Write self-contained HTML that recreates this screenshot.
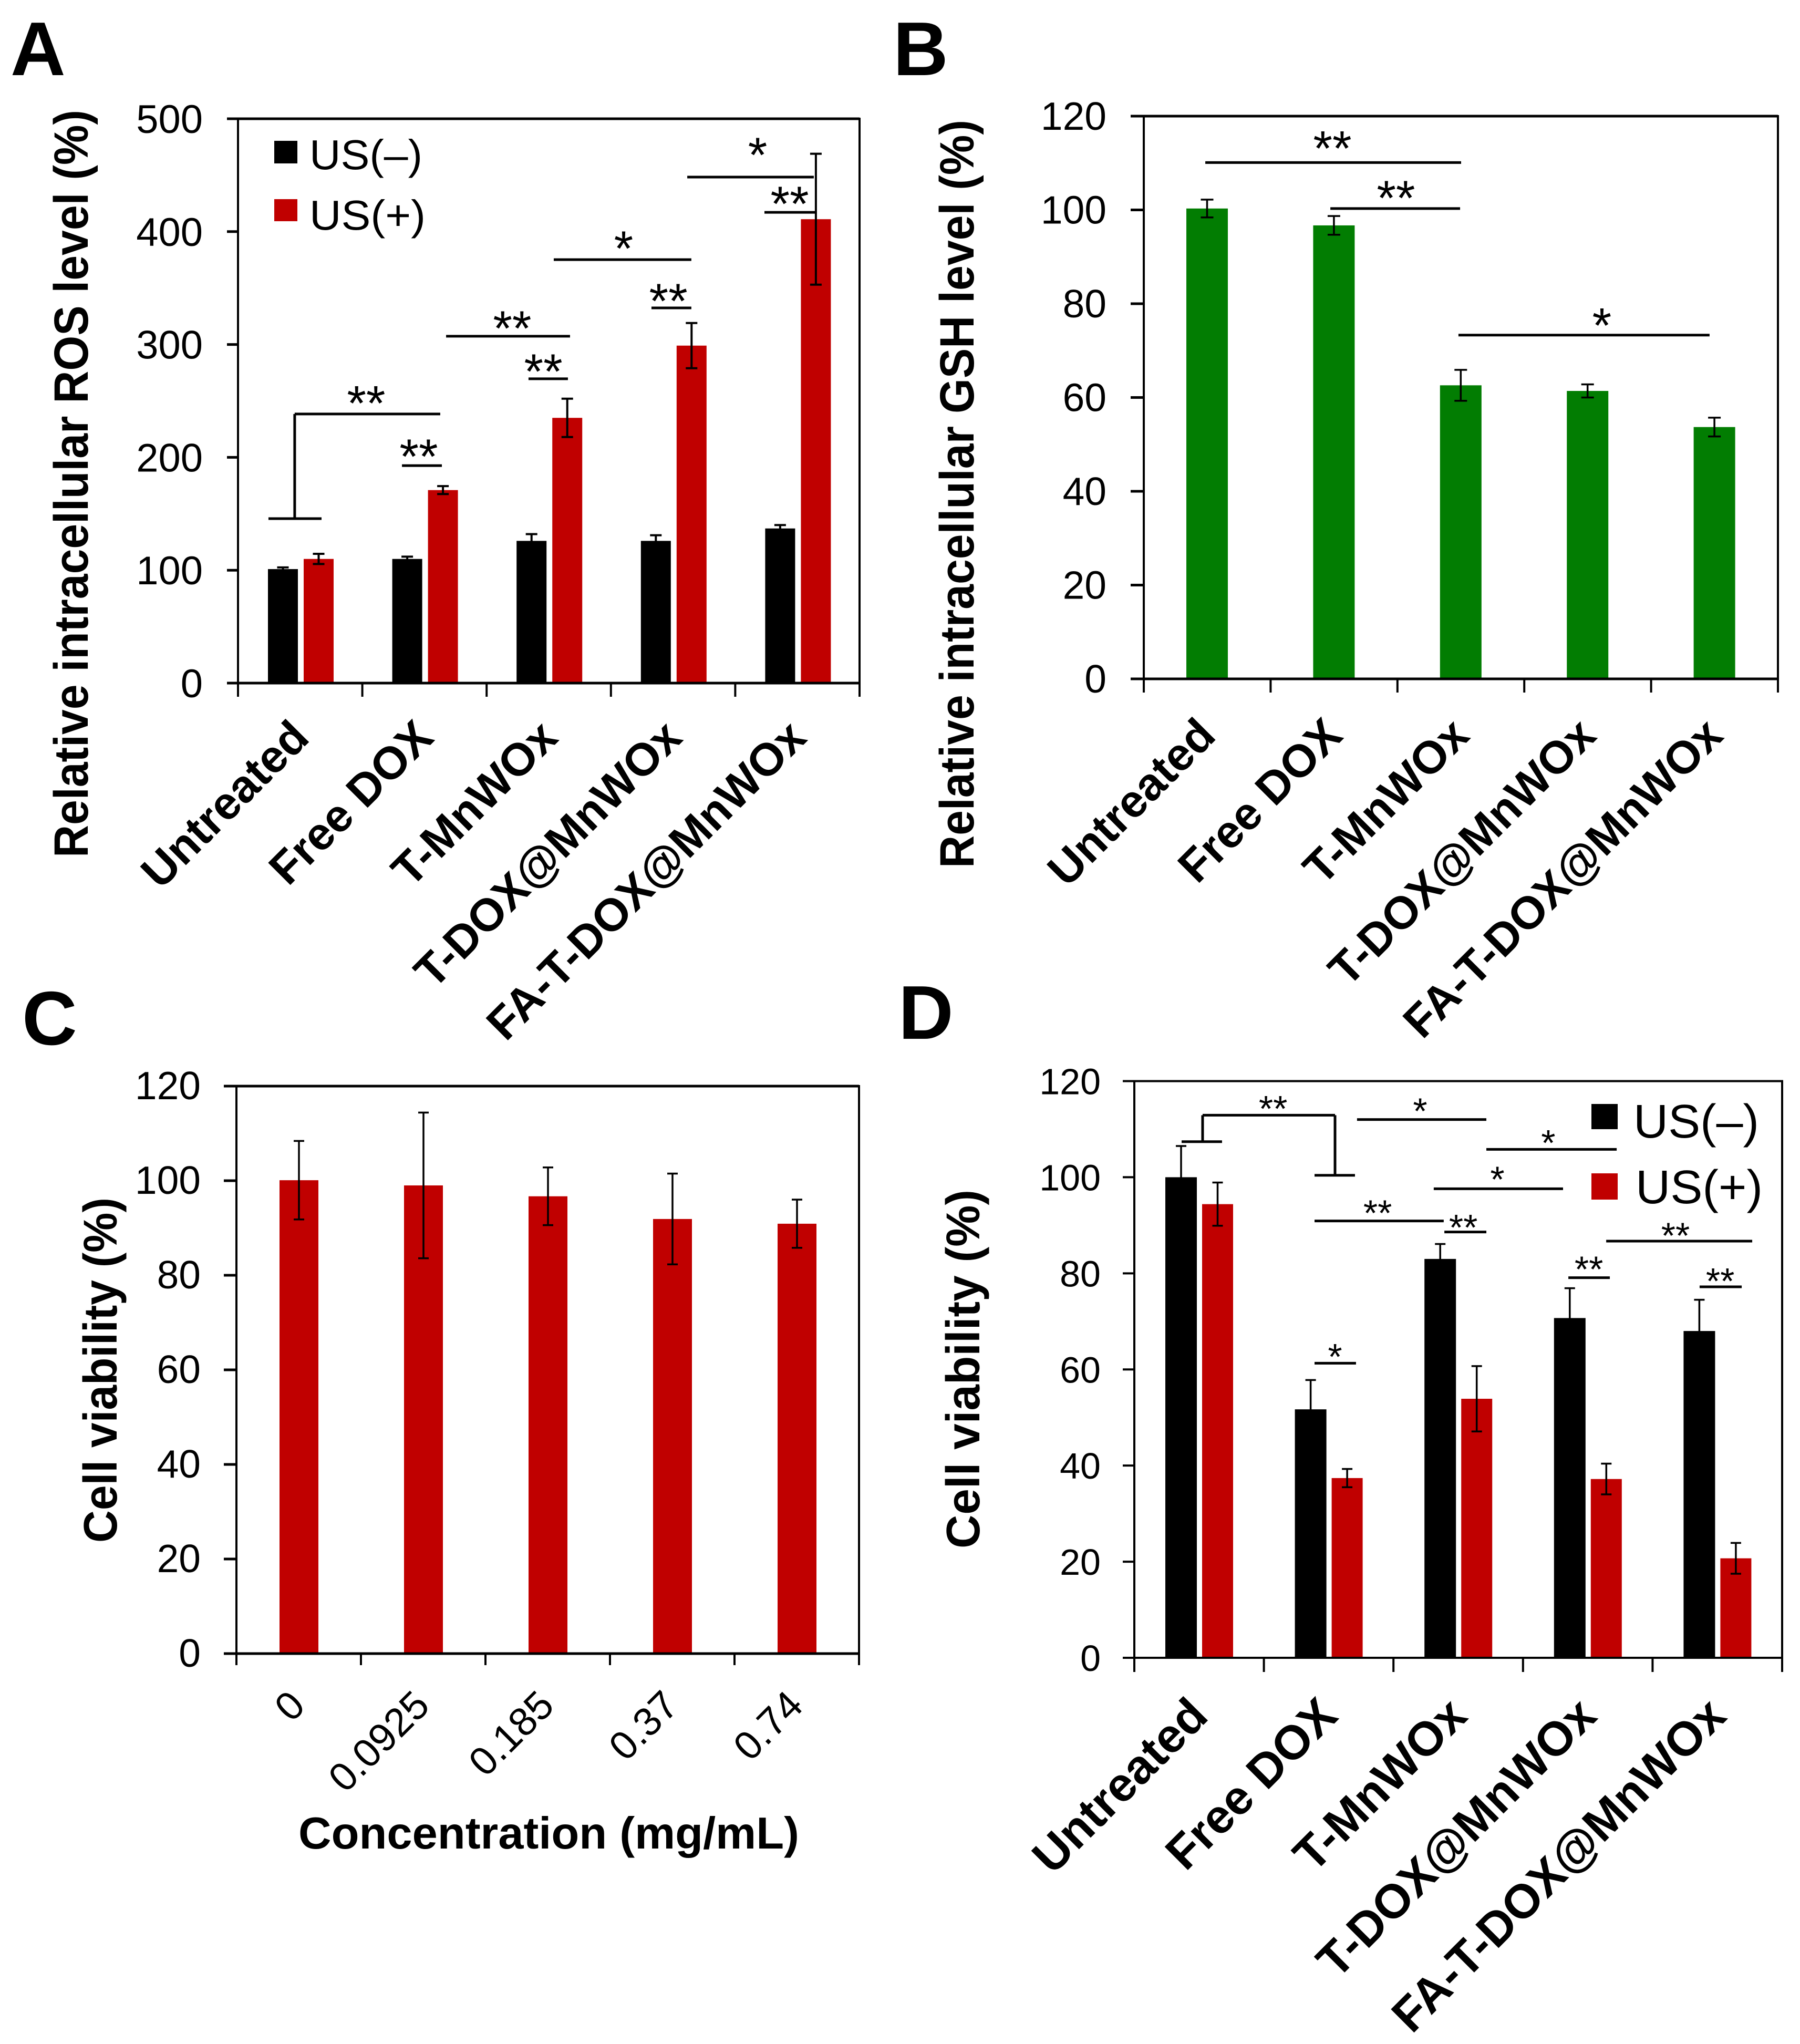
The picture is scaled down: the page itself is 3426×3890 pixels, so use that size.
<!DOCTYPE html>
<html lang="en">
<head>
<meta charset="utf-8">
<title>Intracellular ROS, GSH and cell viability charts</title>
<style>
  html, body { margin: 0; padding: 0; background: #fff; }
  svg { display: block; }
  text { font-family: "Liberation Sans", Arial, sans-serif; fill: #000; }
  .b { font-weight: bold; }
</style>
</head>
<body>
<svg id="figure" xmlns="http://www.w3.org/2000/svg" width="3426" height="3890" viewBox="0 0 3426 3890">
  <rect x="0" y="0" width="3426" height="3890" fill="#fff"/>

  <text class="b" x="20" y="143" font-size="145">A</text>
  <text class="b" x="1700" y="143" font-size="145">B</text>
  <text class="b" x="42" y="1988" font-size="145">C</text>
  <text class="b" x="1710" y="1977" font-size="145">D</text>

  <text class="b" transform="translate(167,1632) rotate(-90)" font-size="92" textLength="1423" lengthAdjust="spacingAndGlyphs">Relative intracellular ROS level (%)</text>
  <text class="b" transform="translate(1853,1652) rotate(-90)" font-size="92" textLength="1424" lengthAdjust="spacingAndGlyphs">Relative intracellular GSH level (%)</text>
  <text class="b" transform="translate(222,2936) rotate(-90)" font-size="90" textLength="657" lengthAdjust="spacingAndGlyphs">Cell viability (%)</text>
  <text class="b" transform="translate(1864,2947) rotate(-90)" font-size="90" textLength="683" lengthAdjust="spacingAndGlyphs">Cell viability (%)</text>
  <text class="b" x="568" y="3518" font-size="85" textLength="953" lengthAdjust="spacingAndGlyphs">Concentration (mg/mL)</text>

  <g>
    <rect x="522" y="268" width="44" height="43" fill="#000"/>
    <text x="589" y="322" font-size="80" textLength="215" lengthAdjust="spacingAndGlyphs">US(–)</text>
    <rect x="522" y="379" width="44" height="42" fill="#c00000"/>
    <text x="589" y="437" font-size="80" textLength="221" lengthAdjust="spacingAndGlyphs">US(+)</text>
  </g>
  <g>
    <rect x="3029" y="2101" width="50" height="48" fill="#000"/>
    <text x="3109" y="2165" font-size="90" textLength="239" lengthAdjust="spacingAndGlyphs">US(–)</text>
    <rect x="3029" y="2233" width="50" height="50" fill="#c00000"/>
    <text x="3113" y="2290" font-size="90" textLength="242" lengthAdjust="spacingAndGlyphs">US(+)</text>
  </g>
</svg>

<script>
/* ---------- data ---------- */
const groupLabels = ["Untreated", "Free DOX", "T-MnWOx", "T-DOX@MnWOx", "FA-T-DOX@MnWOx"];
const concentrationLabels = ["0", "0.0925", "0.185", "0.37", "0.74"];

const rosTicks = [0, 100, 200, 300, 400, 500];
const rosUsMinus = [101, 110, 126, 126, 137];
const rosUsMinusErr = [1.5, 2, 6, 5, 3];
const rosUsPlus = [110, 171, 235, 299, 411];
const rosUsPlusErr = [4.5, 3.5, 17, 20, 58];

const gshTicks = [0, 20, 40, 60, 80, 100, 120];
const gshValues = [100.3, 96.7, 62.6, 61.4, 53.7];
const gshErr = [1.9, 2, 3.3, 1.4, 2];

const viabilityTicks = [0, 20, 40, 60, 80, 100, 120];
const concValues = [100.1, 99, 96.7, 91.9, 90.9];
const concErr = [8.3, 15.4, 6.1, 9.6, 5.1];

const usViabilityMinus = [100, 51.7, 83, 70.7, 68];
const usViabilityMinusErr = [6.5, 6.1, 3.1, 6.2, 6.5];
const usViabilityPlus = [94.4, 37.4, 53.9, 37.2, 20.7];
const usViabilityPlusErr = [4.5, 1.9, 6.8, 3.2, 3.2];

/* significance annotations in axis units: category position and value */
const rosSigLines = [[0.456, 1.627, 238.4], [0.245, 0.672, 145.7], [1.319, 1.640, 192.7], [1.674, 2.671, 307.3], [2.337, 2.654, 269.6], [2.540, 3.647, 375.2], [3.326, 3.647, 332.4], [3.614, 4.632, 448.3], [4.235, 4.649, 417.1]];
const rosSigDrops = [[0.456, 238.4, 145.7]];
const rosSigStars = [[1.031, 254.5, "**"], [1.454, 207.2, "**"], [2.206, 320.8, "**"], [2.456, 282.6, "**"], [3.102, 391.5, "*"], [3.462, 345, "**"], [4.180, 474.4, "*"], [4.438, 431.1, "**"]];

const gshSigLines = [[0.485, 2.502, 110.1], [1.471, 2.494, 100.3], [2.481, 4.461, 73.3]];
const gshSigDrops = [];
const gshSigStars = [[1.487, 114.7, "**"], [1.988, 104.1, "**"], [3.612, 76.9, "*"]];

const usSigLines = [[0.527, 1.549, 112.9], [0.365, 0.677, 107.4], [1.391, 1.703, 100.4], [1.719, 2.717, 112], [2.717, 3.723, 105.8], [2.311, 3.309, 97.6], [1.391, 2.388, 90.9], [2.393, 2.717, 88.6], [3.642, 4.769, 86.7], [3.350, 3.670, 79.1], [4.363, 4.688, 77.2], [1.391, 1.711, 61.3]];
const usSigDrops = [[0.527, 112.9, 107.4], [1.549, 112.9, 100.4]];
const usSigStars = [[1.071, 115.4, "**"], [2.206, 114.9, "*"], [3.195, 108.3, "*"], [2.802, 100.7, "*"], [1.878, 93.7, "**"], [2.539, 90.7, "**"], [4.177, 89, "**"], [3.508, 82, "**"], [4.522, 79.5, "**"], [1.549, 63.8, "*"]];

/* ---------- drawing ---------- */
const NS = "http://www.w3.org/2000/svg";
const root = document.getElementById("figure");
const RED = "#c00000";
const BLACK = "#000000";
const GREEN = "#027d02";

function make(parent, tag, attrs, text) {
  const el = document.createElementNS(NS, tag);
  for (const key in attrs) el.setAttribute(key, attrs[key]);
  if (text !== undefined) el.textContent = text;
  parent.appendChild(el);
  return el;
}

function drawPanel(p) {
  const group = make(root, "g", {});
  
  

  const step = (p.right - p.left) / p.labels.length;
  const xPos = cat => p.left + cat * step;
  const yPos = val => p.bottom - val * (p.bottom - p.top) / p.yMax;

  /* bars, then error bars */
  p.series.forEach(s => {
    s.values.forEach((v, i) => {
      const bar = make(group, "rect", {
        x: xPos(i) + s.offset,
        y: yPos(v),
        width: s.width,
        height: p.bottom - yPos(v),
        fill: s.color
      });
      
      
    });
  });
  p.series.forEach(s => {
    s.values.forEach((v, i) => {
      const cx = xPos(i) + s.offset + s.width / 2;
      const hi = yPos(v + s.errors[i]);
      const lo = yPos(v - s.errors[i]);
      const err = make(group, "path", {
        d: "M" + cx + " " + hi + "V" + lo +
           "M" + (cx - p.capHalf) + " " + hi + "H" + (cx + p.capHalf) +
           "M" + (cx - p.capHalf) + " " + lo + "H" + (cx + p.capHalf),
        fill: "none",
        stroke: "#000",
        "stroke-width": p.errWidth
      });
      
      
    });
  });

  /* axes frame */
  const frame = make(group, "rect", {
    x: p.left, y: p.top, width: p.right - p.left, height: p.bottom - p.top,
    fill: "none", stroke: "#000", "stroke-width": 4
  });
  
  

  const topAxis = make(group, "line", { x1: p.left, x2: p.right, y1: p.top, y2: p.top, stroke: "#000", "stroke-width": p.axisWidth });
  
  

  const xAxis = make(group, "line", { x1: p.left, x2: p.right, y1: p.bottom, y2: p.bottom, stroke: "#000", "stroke-width": p.axisWidth });
  
  

  /* y ticks */
  p.yTicks.forEach(t => {
    const mark = make(group, "line", { x1: p.left - p.yTickLen, x2: p.left, y1: yPos(t), y2: yPos(t), stroke: "#000", "stroke-width": p.axisWidth });
    
    
    const label = make(group, "text", {
      x: p.yLabelRight,
      y: yPos(t) + p.yLabelDy,
      "font-size": p.yLabelSize,
      "text-anchor": "end"
    }, String(t));
    
    
  });

  /* x ticks */
  for (let i = 0; i <= p.labels.length; i++) {
    const mark = make(group, "line", { x1: xPos(i), x2: xPos(i), y1: p.bottom, y2: p.bottom + p.xTickLen, stroke: "#000", "stroke-width": 4 });
    
    
  }
  p.labels.forEach((name, i) => {
    const label = make(group, "text", {
      transform: "translate(" + (xPos(i + 0.5) + p.xLabelDx) + "," + p.xLabelY + ") rotate(-45)",
      "font-size": p.xLabelSize,
      "font-weight": p.xLabelWeight,
      "text-anchor": "end"
    }, name);
    
    
  });

  /* significance brackets */
  p.sigLines.forEach(l => {
    const line = make(group, "line", { x1: xPos(l[0]), x2: xPos(l[1]), y1: yPos(l[2]), y2: yPos(l[2]), stroke: "#000", "stroke-width": p.sigWidth });
    
    
  });
  p.sigDrops.forEach(l => {
    const line = make(group, "line", { x1: xPos(l[0]), x2: xPos(l[0]), y1: yPos(l[1]), y2: yPos(l[2]), stroke: "#000", "stroke-width": p.sigWidth });
    
    
  });
  p.sigStars.forEach(s => {
    const star = make(group, "text", {
      x: xPos(s[0]),
      y: yPos(s[1]) + p.starSize * 0.49,
      "font-size": p.starSize,
      "text-anchor": "middle"
    }, s[2]);
    
    
  });
}

drawPanel({
  name: "panel-a-ros-chart", labels: groupLabels, left: 453, right: 1636, top: 226, bottom: 1300, yMax: 500,
  yTicks: rosTicks, yTickLen: 21, xTickLen: 26, axisWidth: 5, yLabelRight: 386, yLabelSize: 76, yLabelDy: 27,
  xLabelDx: 21, xLabelY: 1408, xLabelSize: 87, xLabelWeight: "bold",
  capHalf: 11, errWidth: 4, sigWidth: 5, starSize: 94,
  series: [
    { key: "us-minus", color: BLACK, offset: 57, width: 57, values: rosUsMinus, errors: rosUsMinusErr },
    { key: "us-plus", color: RED, offset: 125, width: 57, values: rosUsPlus, errors: rosUsPlusErr }
  ],
  sigLines: rosSigLines, sigDrops: rosSigDrops, sigStars: rosSigStars
});

drawPanel({
  name: "panel-b-gsh-chart", labels: groupLabels, left: 2177, right: 3384, top: 221, bottom: 1292, yMax: 120,
  yTicks: gshTicks, yTickLen: 25, xTickLen: 26, axisWidth: 5, yLabelRight: 2106, yLabelSize: 75, yLabelDy: 26,
  xLabelDx: 20, xLabelY: 1404, xLabelSize: 87, xLabelWeight: "bold",
  capHalf: 12, errWidth: 3.5, sigWidth: 5, starSize: 94,
  series: [
    { key: "gsh", color: GREEN, offset: 81, width: 79, values: gshValues, errors: gshErr }
  ],
  sigLines: gshSigLines, sigDrops: gshSigDrops, sigStars: gshSigStars
});

drawPanel({
  name: "panel-c-concentration-chart", labels: concentrationLabels, left: 450, right: 1635, top: 2067, bottom: 3147, yMax: 120,
  yTicks: viabilityTicks, yTickLen: 24, xTickLen: 22, axisWidth: 5, yLabelRight: 382, yLabelSize: 75, yLabelDy: 25,
  xLabelDx: 16, xLabelY: 3250, xLabelSize: 76, xLabelWeight: "normal",
  capHalf: 10, errWidth: 3.5, sigWidth: 5, starSize: 94,
  series: [
    { key: "viability", color: RED, offset: 82, width: 74, values: concValues, errors: concErr }
  ],
  sigLines: [], sigDrops: [], sigStars: []
});

drawPanel({
  name: "panel-d-ultrasound-chart", labels: groupLabels, left: 2159, right: 3392, top: 2057.5, bottom: 3155, yMax: 120,
  yTicks: viabilityTicks, yTickLen: 22, xTickLen: 27, axisWidth: 4, yLabelRight: 2095, yLabelSize: 70, yLabelDy: 25,
  xLabelDx: 21, xLabelY: 3270, xLabelSize: 91, xLabelWeight: "bold",
  capHalf: 10, errWidth: 3.5, sigWidth: 5, starSize: 70,
  series: [
    { key: "us-minus", color: BLACK, offset: 59, width: 60, values: usViabilityMinus, errors: usViabilityMinusErr },
    { key: "us-plus", color: RED, offset: 129, width: 59, values: usViabilityPlus, errors: usViabilityPlusErr }
  ],
  sigLines: usSigLines, sigDrops: usSigDrops, sigStars: usSigStars
});
</script>
</body>
</html>
